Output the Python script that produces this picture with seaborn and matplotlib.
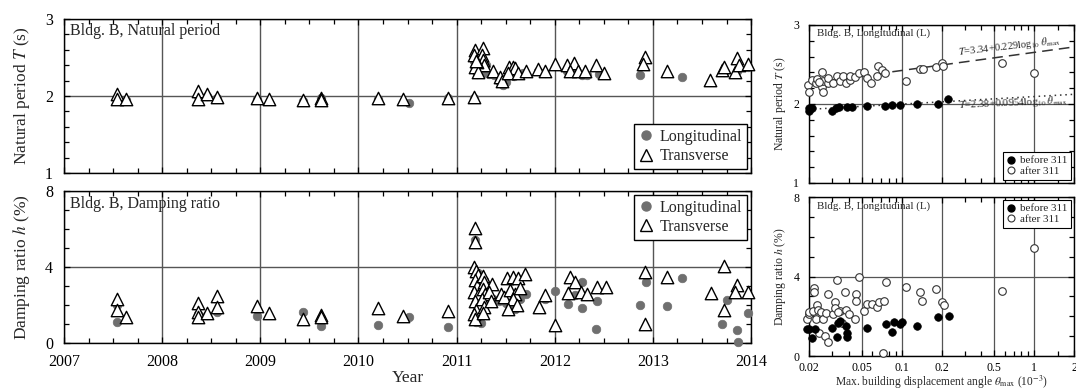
import matplotlib
matplotlib.use("Agg")
import matplotlib.pyplot as plt
import seaborn as sns
import numpy as np
from matplotlib.ticker import MultipleLocator, FixedLocator, FixedFormatter, NullFormatter
from matplotlib.lines import Line2D

# ---------------- data: time histories ----------------
T_trans_yr = [2007.54, 2007.54, 2007.63, 2008.36, 2008.36, 2008.46, 2008.56, 2008.97, 2009.09, 2009.43,
              2009.62, 2009.62, 2010.20, 2010.45, 2010.91, 2011.18,
              2011.19, 2011.27, 2011.18, 2011.26, 2011.27, 2011.28, 2011.21, 2011.19, 2011.22, 2011.20,
              2011.37, 2011.44, 2011.46, 2011.53, 2011.57, 2011.60, 2011.52, 2011.63, 2011.71, 2011.83,
              2011.90, 2012.00, 2012.12, 2012.20, 2012.16, 2012.24, 2012.31, 2012.42, 2012.50,
              2012.92, 2012.90, 2013.14, 2013.58, 2013.70, 2013.72, 2013.86, 2013.84, 2013.88, 2013.97]
T_trans = [2.02, 1.96, 1.96, 2.07, 1.96, 2.02, 1.99, 1.97, 1.96, 1.95,
           1.98, 1.95, 1.97, 1.96, 1.98, 1.99,
           2.60, 2.62, 2.53, 2.53, 2.47, 2.40, 2.44, 2.37, 2.31, 2.45,
           2.32, 2.25, 2.20, 2.38, 2.38, 2.36, 2.30, 2.30, 2.33, 2.35,
           2.32, 2.42, 2.40, 2.43, 2.33, 2.33, 2.33, 2.40, 2.30,
           2.51, 2.42, 2.32, 2.21, 2.34, 2.38, 2.49, 2.31, 2.40, 2.41]

T_long_yr = [2007.54, 2007.63, 2008.36, 2008.46, 2008.56, 2008.97, 2009.43, 2009.62, 2009.62, 2010.20,
             2010.52, 2010.91, 2011.18,
             2011.18, 2011.19, 2011.20, 2011.21, 2011.23, 2011.25, 2011.27, 2011.30, 2011.33, 2011.38,
             2011.43, 2011.47, 2011.50, 2011.55, 2011.58, 2011.62, 2011.68, 2011.83, 2011.90, 2012.12,
             2012.20, 2012.28, 2012.33, 2012.45, 2012.87, 2013.30, 2013.72, 2013.86, 2013.97]
T_long = [1.98, 1.95, 2.00, 2.00, 1.98, 1.96, 1.94, 1.94, 1.97, 1.96,
          1.91, 1.97, 1.98,
          2.45, 2.38, 2.33, 2.28, 2.42, 2.36, 2.30, 2.40, 2.28, 2.27,
          2.20, 2.14, 2.18, 2.32, 2.26, 2.28, 2.30, 2.32, 2.30, 2.32,
          2.30, 2.27, 2.27, 2.28, 2.27, 2.24, 2.31, 2.33, 2.37]

h_trans_yr = [2007.54, 2007.54, 2007.63, 2008.36, 2008.36, 2008.37, 2008.46, 2008.56, 2008.56, 2008.97,
              2009.09, 2009.43, 2009.62, 2009.62, 2010.20, 2010.45, 2010.91,
              2011.19, 2011.19, 2011.18, 2011.20, 2011.22, 2011.19, 2011.21, 2011.18, 2011.22, 2011.19,
              2011.23, 2011.20, 2011.18, 2011.19, 2011.27, 2011.28, 2011.27, 2011.29, 2011.26, 2011.28,
              2011.27, 2011.36, 2011.33, 2011.35, 2011.45, 2011.48, 2011.51, 2011.57, 2011.63, 2011.70,
              2011.54, 2011.60, 2011.57, 2011.65, 2011.62, 2011.52, 2011.84, 2011.90, 2012.00, 2012.13,
              2012.16, 2012.21, 2012.27, 2012.33, 2012.43, 2012.52, 2012.92, 2012.92, 2013.14, 2013.59,
              2013.72, 2013.72, 2013.86, 2013.84, 2013.97]
h_trans = [2.32, 1.74, 1.37, 2.10, 1.63, 1.37, 1.58, 2.47, 1.90, 1.95,
           1.58, 1.26, 1.45, 1.37, 1.84, 1.42, 1.68,
           6.05, 5.32, 4.00, 3.80, 3.60, 3.30, 3.00, 2.70, 2.50, 2.20,
           2.00, 1.75, 1.50, 1.25, 3.55, 3.20, 2.85, 2.60, 2.30, 1.90,
           1.60, 3.10, 2.70, 2.20, 2.60, 2.40, 3.42, 3.47, 3.42, 3.63,
           2.80, 2.60, 2.30, 2.90, 2.00, 1.80, 1.90, 2.53, 0.95, 2.63,
           3.47, 3.20, 2.68, 2.58, 2.95, 2.95, 3.74, 1.00, 3.47, 2.63,
           4.05, 1.74, 3.05, 2.70, 2.70]

h_long_yr = [2007.54, 2007.54, 2008.36, 2008.46, 2008.56, 2008.97, 2009.43, 2009.62, 2009.62, 2010.20,
             2010.52, 2010.91, 2011.19, 2011.20, 2011.25, 2011.22, 2011.28, 2011.30, 2011.24, 2011.37,
             2011.43, 2011.50, 2011.55, 2011.60, 2011.65, 2011.71, 2011.90, 2012.00, 2012.13, 2012.21,
             2012.28, 2012.28, 2012.43, 2012.42, 2012.87, 2012.93, 2013.14, 2013.30, 2013.70, 2013.75,
             2013.86, 2013.87, 2013.97]
h_long = [2.00, 1.10, 1.50, 1.45, 1.65, 1.42, 1.63, 0.90, 1.30, 0.95,
          1.37, 0.84, 5.40, 1.10, 1.05, 3.70, 3.30, 2.80, 2.40, 2.30,
          2.20, 2.10, 1.80, 1.80, 2.30, 2.58, 2.30, 2.74, 2.05, 2.50,
          3.20, 1.84, 2.20, 0.74, 2.00, 3.20, 1.95, 3.42, 1.00, 2.26,
          0.68, 0.05, 1.60]

# ---------------- data: vs. displacement angle ----------------
Tb_theta = [0.0200, 0.0200, 0.0210, 0.0298, 0.0319, 0.0336, 0.0386, 0.0421, 0.0546, 0.0745,
            0.0841, 0.0970, 0.1295, 0.1865, 0.2220]
Tb_val = [1.95, 1.91, 1.95, 1.91, 1.95, 1.96, 1.96, 1.96, 1.97, 1.97,
          1.99, 1.99, 2.00, 2.00, 2.06]
Ta_theta = [0.0195, 0.0200, 0.0210, 0.0224, 0.0230, 0.0251, 0.0251, 0.0257, 0.0257, 0.0238,
            0.0278, 0.0278, 0.0303, 0.0324, 0.0342, 0.0360, 0.0379, 0.0406, 0.0406, 0.0443,
            0.0474, 0.0518, 0.0546, 0.0585, 0.0648, 0.0660, 0.0710, 0.0745, 0.1070, 0.1380,
            0.1440, 0.1830, 0.2030, 0.2050, 0.5740, 1.0000]
Ta_val = [2.24, 2.15, 2.30, 2.27, 2.31, 2.41, 2.22, 2.15, 2.29, 2.28,
          2.26, 2.33, 2.26, 2.35, 2.29, 2.35, 2.26, 2.30, 2.35, 2.34,
          2.39, 2.40, 2.33, 2.27, 2.35, 2.48, 2.43, 2.39, 2.29, 2.44,
          2.44, 2.47, 2.52, 2.48, 2.52, 2.39]

hb_theta = [0.0194, 0.0201, 0.0210, 0.0222, 0.0298, 0.0324, 0.0330, 0.0342, 0.0379, 0.0386,
            0.0386, 0.0546, 0.0756, 0.0841, 0.0870, 0.0970, 0.1000, 0.1295, 0.1865, 0.2260]
hb_val = [1.36, 1.36, 0.90, 1.36, 1.41, 0.95, 1.66, 1.76, 1.50, 1.16,
          0.95, 1.41, 1.60, 1.20, 1.71, 1.60, 1.71, 1.50, 1.96, 2.01]
ha_theta = [0.0194, 0.0200, 0.0200, 0.0218, 0.0218, 0.0215, 0.0224, 0.0229, 0.0232, 0.0237,
            0.0245, 0.0257, 0.0264, 0.0278, 0.0278, 0.0270, 0.0303, 0.0314, 0.0314, 0.0324,
            0.0342, 0.0330, 0.0373, 0.0380, 0.0354, 0.0400, 0.0450, 0.0450, 0.0443, 0.0474,
            0.0518, 0.0546, 0.0594, 0.0648, 0.0672, 0.0723, 0.0735, 0.0756, 0.1070, 0.1370,
            0.1420, 0.1830, 0.2030, 0.2100, 0.5740, 1.0000]
ha_val = [1.86, 2.11, 2.21, 3.42, 3.22, 2.26, 1.86, 2.57, 2.30, 1.16,
          2.21, 1.86, 1.00, 0.70, 3.12, 2.16, 2.11, 2.72, 2.42, 3.82,
          2.26, 2.20, 3.22, 2.30, 1.66, 2.11, 3.10, 2.77, 1.86, 4.00,
          2.26, 2.62, 2.62, 2.47, 2.72, 0.13, 2.77, 3.72, 3.47, 3.22,
          2.77, 3.37, 2.72, 2.57, 3.27, 5.43]

# fit coefficients (T = a + b log10 theta, theta in rad)
fit_after = (3.34, 0.229)
fit_before = (2.38, 0.0954)

# ---------------- style ----------------
sns.set_style("ticks")
plt.rcParams["font.family"] = ["Liberation Serif", "DejaVu Serif"]
plt.rcParams["mathtext.fontset"] = "stix"

GRID = "#555555"
GRAY = "#6f6f6f"

fig = plt.figure(figsize=(10.76, 3.92), dpi=100)
ax1 = fig.add_axes([0.0595, 0.5587, 0.6385, 0.3929])
ax2 = fig.add_axes([0.0595, 0.1250, 0.6385, 0.3878])
ax3 = fig.add_axes([0.7519, 0.5332, 0.2463, 0.4031])
ax4 = fig.add_axes([0.7519, 0.0918, 0.2463, 0.4056])


def style_common(ax, fs, pad):
    for s in ax.spines.values():
        s.set_color("black")
        s.set_linewidth(1.0)
    ax.tick_params(which="both", direction="in", top=True, right=True, colors="black",
                   labelsize=fs, width=0.9, pad=pad)
    ax.tick_params(which="major", length=4)
    ax.tick_params(which="minor", length=3.5)


# ---- left panels ----
for ax in (ax1, ax2):
    ax.set_xlim(2007, 2014)
    ax.xaxis.set_major_locator(MultipleLocator(1))
    ax.xaxis.set_minor_locator(MultipleLocator(0.25))
    style_common(ax, 11.5, 8)
    ax.grid(True, which="major", color=GRID, lw=1.0)
    ax.set_axisbelow(True)

ax1.set_ylim(1, 3)
ax1.yaxis.set_major_locator(MultipleLocator(1))
ax1.yaxis.set_minor_locator(MultipleLocator(0.2))
ax1.xaxis.set_major_formatter(NullFormatter())
ax2.set_ylim(0, 8)
ax2.yaxis.set_major_locator(MultipleLocator(4))
ax2.yaxis.set_minor_locator(MultipleLocator(1))
ax2.set_xticks(range(2007, 2015))
ax2.set_xticklabels([str(y) for y in range(2007, 2015)])
ax2.tick_params(axis="x", pad=8)

for ax, yl, yt, xl, xt in ((ax1, T_long_yr, T_long, T_trans_yr, T_trans),
                           (ax2, h_long_yr, h_long, h_trans_yr, h_trans)):
    sns.scatterplot(x=yl, y=yt, ax=ax, marker="o", s=38, color=GRAY, edgecolor=GRAY,
                    linewidth=0.5, zorder=3, clip_on=False)
    sns.scatterplot(x=xl, y=xt, ax=ax, marker="^", s=80, color="white", edgecolor="black",
                    linewidth=1.0, zorder=4, clip_on=False)

ax1.set_ylabel("Natural period $T$ (s)", fontsize=12.5, labelpad=9)
ax2.set_ylabel("Damping ratio $h$ (%)", fontsize=12.5, labelpad=9)
ax2.set_xlabel("Year", fontsize=12.5, labelpad=0)
ax1.text(0.008, 0.92, "Bldg. B, Natural period", transform=ax1.transAxes, fontsize=11.5,
         ha="left", va="center")
ax2.text(0.008, 0.915, "Bldg. B, Damping ratio", transform=ax2.transAxes, fontsize=11.5,
         ha="left", va="center")

lh = [Line2D([], [], marker="o", ls="none", color=GRAY, markersize=6.5),
      Line2D([], [], marker="^", ls="none", markerfacecolor="white", markeredgecolor="black",
             markersize=9, markeredgewidth=1.0)]
for ax, loc in ((ax1, "lower right"), (ax2, "upper right")):
    leg = ax.legend(lh, ["Longitudinal", "Transverse"], loc=loc, fontsize=11.5, frameon=True,
                    fancybox=False, framealpha=1, edgecolor="black", handlelength=0.9,
                    handletextpad=0.4, borderaxespad=0.25, borderpad=0.3, labelspacing=0.2)
    leg.get_frame().set_linewidth(1.0)
    leg.set_zorder(10)

# ---- right panels ----
maj = [0.02, 0.05, 0.1, 0.2, 0.5, 1, 2]
maj_lab = ["0.02", "0.05", "0.1", "0.2", "0.5", "1", "2"]
minor = [0.03, 0.04, 0.06, 0.07, 0.08, 0.09, 0.3, 0.4, 0.6, 0.7, 0.8, 0.9, 1.5]
for ax in (ax3, ax4):
    ax.set_xscale("log")
    ax.set_xlim(0.02, 2)
    ax.xaxis.set_major_locator(FixedLocator(maj))
    ax.xaxis.set_minor_locator(FixedLocator(minor))
    ax.xaxis.set_minor_formatter(NullFormatter())
    style_common(ax, 8.5, 7)
    ax.grid(True, which="major", color=GRID, lw=0.9)
    ax.set_axisbelow(True)
ax3.xaxis.set_major_formatter(NullFormatter())
ax4.xaxis.set_major_formatter(FixedFormatter(maj_lab))
ax4.tick_params(axis="x", pad=4)

ax3.set_ylim(1, 3)
ax3.yaxis.set_major_locator(MultipleLocator(1))
ax3.yaxis.set_minor_locator(MultipleLocator(0.2))
ax4.set_ylim(0, 8)
ax4.yaxis.set_major_locator(MultipleLocator(4))
ax4.yaxis.set_minor_locator(MultipleLocator(1))

# fit lines
xs = np.logspace(np.log10(0.02), np.log10(2), 50)
sns.lineplot(x=xs, y=fit_after[0] + fit_after[1] * np.log10(xs * 1e-3), ax=ax3,
             color="#333333", lw=1.1, linestyle=(0, (7, 4)), zorder=2)
sns.lineplot(x=xs, y=fit_before[0] + fit_before[1] * np.log10(xs * 1e-3), ax=ax3,
             color="#333333", lw=1.1, linestyle=(0, (1, 2.5)), zorder=2)

for ax, xb, yb, xa, ya in ((ax3, Tb_theta, Tb_val, Ta_theta, Ta_val),
                           (ax4, hb_theta, hb_val, ha_theta, ha_val)):
    sns.scatterplot(x=xa, y=ya, ax=ax, marker="o", s=30, color="white", edgecolor="#333333",
                    linewidth=0.8, zorder=3, clip_on=False)
    sns.scatterplot(x=xb, y=yb, ax=ax, marker="o", s=30, color="black", edgecolor="black",
                    linewidth=0.5, zorder=4, clip_on=False)

ax3.text(0.27, 2.57, "$T$=3.34+0.229log$_{10}$ $\\theta_{\\max}$", fontsize=7.6, rotation=6.5,
         rotation_mode="anchor", ha="left", va="bottom", zorder=5)
ax3.text(0.27, 1.90, "$T$=2.38+0.0954log$_{10}$ $\\theta_{\\max}$", fontsize=7.6, rotation=2.5,
         rotation_mode="anchor", ha="left", va="bottom", zorder=5)

ax3.set_ylabel("Natural period $T$ (s)", fontsize=8.5, labelpad=4)
ax4.set_ylabel("Damping ratio $h$ (%)", fontsize=8.5, labelpad=4)
ax4.set_xlabel("Max. building displacement angle $\\theta_{\\max}$ (10$^{-3}$)", fontsize=8.3,
               labelpad=0)
for ax in (ax3, ax4):
    ax.text(0.03, 0.945, "Bldg. B, Longitudinal (L)", transform=ax.transAxes, fontsize=7.8,
            ha="left", va="center")

rh = [Line2D([], [], marker="o", ls="none", color="black", markersize=5),
      Line2D([], [], marker="o", ls="none", markerfacecolor="white", markeredgecolor="#333333",
             markersize=5, markeredgewidth=0.8)]
for ax, loc in ((ax3, "lower right"), (ax4, "upper right")):
    leg = ax.legend(rh, ["before 311", "after 311"], loc=loc, fontsize=8, frameon=True,
                    fancybox=False, framealpha=1, edgecolor="black", handlelength=0.8,
                    handletextpad=0.4, borderaxespad=0.3, borderpad=0.3, labelspacing=0.1)
    leg.get_frame().set_linewidth(0.8)
    leg.set_zorder(10)

fig.savefig("out.png", dpi=100)
